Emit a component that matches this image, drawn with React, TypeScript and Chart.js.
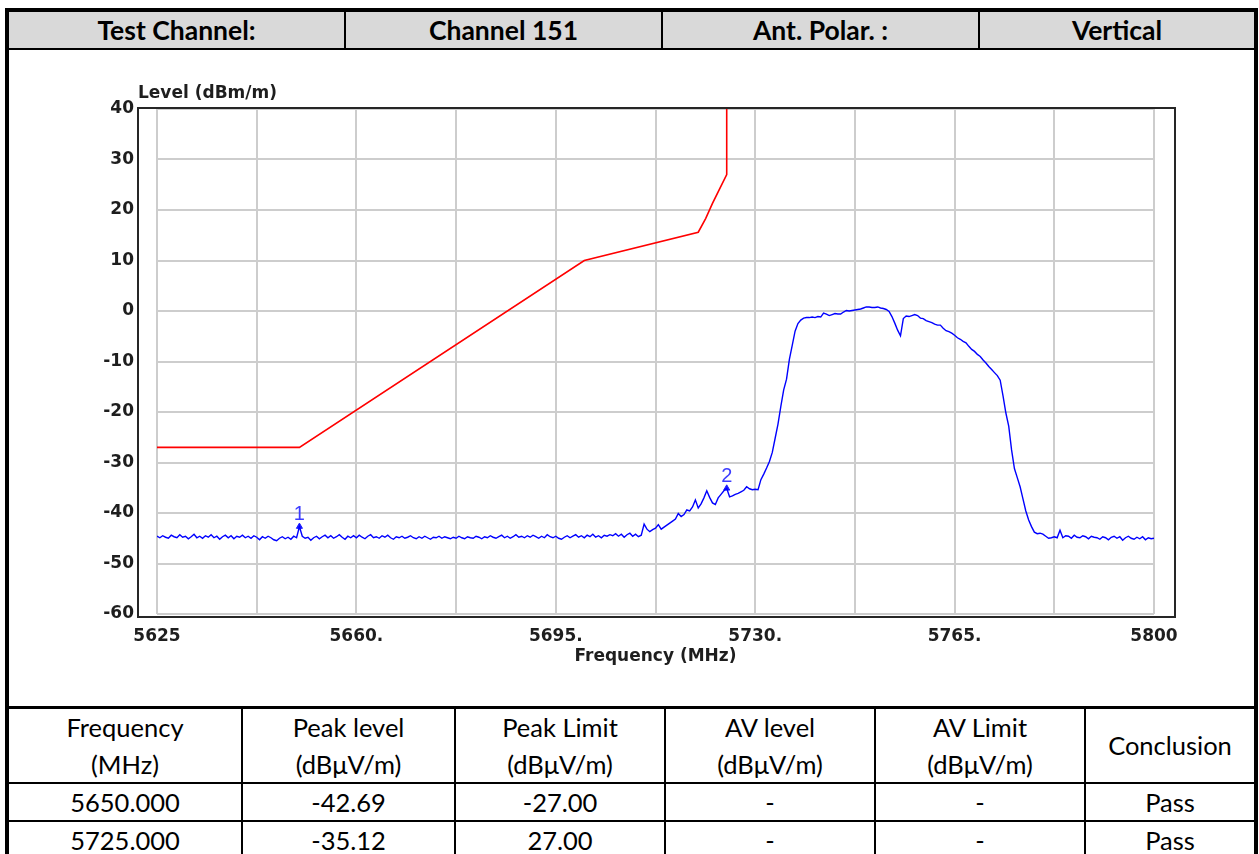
import React, { useEffect, useRef } from "react";
import { Chart, registerables } from "chart.js";

Chart.register(...registerables);

// ---------- data ----------
const headerCells = ["Test Channel:", "Channel 151", "Ant. Polar. :", "Vertical"];

const xTickValues = [5625, 5642.5, 5660, 5677.5, 5695, 5712.5, 5730, 5747.5, 5765, 5782.5, 5800];
const xTickLabels = ["5625", "", "5660.", "", "5695.", "", "5730.", "", "5765.", "", "5800"];
const yTickValues = [40, 30, 20, 10, 0, -10, -20, -30, -40, -50, -60];
const yTickLabels = ["40", "30", "20", "10", "0", "-10", "-20", "-30", "-40", "-50", "-60"];

const yAxisTitle = "Level (dBm/m)";
const xAxisTitle = "Frequency (MHz)";

const limitFreq = [5625, 5650, 5700, 5720, 5721.3, 5722.5, 5723.8, 5725, 5725];
const limitLevel = [-27, -27, 10, 15.6, 18.3, 21.3, 24.3, 27, 40];

const sweepStart = 5625;
const sweepStep = 0.5;
const measuredLevel = [
  -44.6, -44.9, -44.5, -44.8, -45.0, -44.4, -44.7, -44.9, -44.3, -44.8,
  -44.6, -45.1, -44.7, -44.2, -44.9, -44.6, -45.0, -44.5, -44.8, -44.3,
  -44.9, -44.6, -45.2, -44.7, -44.4, -44.9, -44.5, -45.1, -44.6, -44.8,
  -44.4, -44.9, -44.6, -45.0, -44.5, -44.8, -45.3, -44.7, -45.0, -44.6,
  -44.9, -45.3, -45.5, -45.0, -44.7, -45.1, -44.8, -45.2, -44.6, -44.9,
  -42.69, -44.6, -45.0, -44.8, -45.4, -44.9, -44.6, -45.1, -44.7, -44.4,
  -44.9, -44.5, -45.0, -44.7, -44.3, -44.8, -45.2, -44.6, -44.9, -44.5,
  -44.9, -44.4, -44.8, -45.1, -44.6, -44.3, -44.9, -44.7, -45.0, -44.5,
  -44.8, -44.4, -44.9, -45.2, -44.7, -44.9, -44.6, -45.0, -44.8, -44.5,
  -44.9, -45.1, -44.7, -45.0, -44.6, -44.9, -45.2, -44.8, -44.9, -44.6,
  -45.0, -44.7, -44.9, -45.1, -44.8, -45.0, -44.6, -44.9, -45.1, -44.7,
  -44.9, -45.0, -44.6, -44.8, -45.1, -44.7, -44.9, -44.5, -44.8, -45.0,
  -44.7, -44.4, -44.9, -44.6, -45.0, -44.7, -44.3, -44.8, -44.6, -44.9,
  -44.5, -44.8, -44.4, -44.7, -45.0, -44.6, -44.9, -44.3, -44.7, -44.9,
  -44.6, -45.0, -45.2, -44.8, -44.5, -44.9, -44.6, -44.3, -44.8, -44.5,
  -44.9, -44.4, -44.7, -44.2, -44.8, -44.5, -44.9, -44.4, -44.6, -44.3,
  -44.5, -44.1, -44.6, -44.2, -44.8, -44.3, -44.0, -44.6, -44.2, -44.7,
  -44.4, -42.2, -43.2, -43.7, -43.3, -43.0, -42.3, -43.2, -42.8, -42.4,
  -42.0, -41.6, -41.2, -40.1, -40.7, -40.3, -39.4, -39.6, -38.8, -37.4,
  -39.0, -38.2, -37.0, -35.6, -36.9, -38.0, -38.3, -37.0, -36.3, -35.6,
  -35.12, -36.8, -36.6, -36.3, -36.1, -35.8, -35.5, -34.8, -35.2, -35.4,
  -35.3, -35.4, -33.4, -32.3, -31.1, -29.8, -28.0, -25.2, -22.4, -18.9,
  -15.6, -13.5, -9.6, -6.8, -4.0, -2.5, -1.8, -1.4, -1.3, -1.3,
  -1.2, -1.3, -1.1, -1.2, -0.4, -0.6, -0.9, -0.7, -0.5, -0.6,
  -0.6, -0.2, 0.1, 0.0, 0.1, 0.2, 0.3, 0.4, 0.6, 0.8,
  0.8, 0.7, 0.7, 0.8, 0.6, 0.5, 0.3, -0.1, -1.1, -2.4,
  -3.8, -4.9, -1.5, -1.0, -1.1, -0.9, -0.7, -0.9, -1.4, -1.5,
  -1.9, -2.1, -2.3, -2.6, -2.8, -2.8, -3.4, -3.9, -4.1, -4.4,
  -4.8, -5.3, -5.6, -6.0, -6.3, -7.0, -7.6, -8.0, -8.6, -9.0,
  -9.7, -10.3, -11.0, -11.6, -12.2, -12.8, -13.7, -16.8, -20.2, -22.8,
  -27.5, -31.2, -33.0, -34.8, -37.2, -39.6, -41.4, -42.7, -43.8, -44.1,
  -44.0, -44.2, -44.6, -45.0, -44.9, -44.7, -44.9, -43.4, -44.9, -44.5,
  -44.6, -45.0, -44.4, -44.8, -44.9, -44.5, -44.7, -45.1, -44.6, -44.8,
  -44.9, -45.2, -44.7, -44.9, -45.3, -44.8, -44.6, -45.0, -44.7, -45.4,
  -44.9, -44.6, -45.0, -45.2, -44.8, -45.1, -44.7, -45.3, -44.9, -45.1,
  -45.0,
];

const markerFreq = [5650, 5725];
const markerLevel = [-42.69, -35.12];
const markerLabels = ["1", "2"];

const tableHead = [
  ["Frequency", "(MHz)"],
  ["Peak level", "(dBμV/m)"],
  ["Peak Limit", "(dBμV/m)"],
  ["AV level", "(dBμV/m)"],
  ["AV Limit", "(dBμV/m)"],
  ["Conclusion"],
];
const tableRows = [
  ["5650.000", "-42.69", "-27.00", "-", "-", "Pass"],
  ["5725.000", "-35.12", "27.00", "-", "-", "Pass"],
];

// ---------- layout helpers ----------
const headerCols = [
  [9, 344],
  [346, 661],
  [663, 978],
  [980, 1254],
];
const headerDividers = [344, 661, 978];
const tableCols = [
  [9, 241],
  [243, 454],
  [456, 664],
  [666, 874],
  [876, 1084],
  [1086, 1254],
];
const tableDividers = [241, 454, 664, 874, 1084];
const tableRowBands = [
  [784, 820],
  [822, 858],
];

const TICK_FONT = "'DejaVu Sans', sans-serif";
const TEXT_COLOR = "#1e1e1e";

const framePlugin = {
  id: "emcFrame",
  afterDraw(chart: any) {
    const { ctx, chartArea: a } = chart;
    ctx.save();
    ctx.strokeStyle = "#262626";
    ctx.lineWidth = 2;
    ctx.strokeRect(a.left - 19, a.top - 1, a.right - a.left + 40, a.bottom - a.top + 4);

    // axis caption above the plot, left-aligned with the frame
    ctx.fillStyle = TEXT_COLOR;
    ctx.font = "bold 17px " + TICK_FONT;
    ctx.textAlign = "left";
    ctx.textBaseline = "middle";
    ctx.fillText(yAxisTitle, a.left - 19, a.top - 15);

    const xs = chart.scales.x;
    const ys = chart.scales.y;
    ctx.fillStyle = "#3c3cff";
    ctx.font = "20px 'Liberation Sans', sans-serif";
    ctx.textAlign = "center";
    markerFreq.forEach((f, i) => {
      ctx.fillText(markerLabels[i], xs.getPixelForValue(f), ys.getPixelForValue(markerLevel[i]) - 12);
    });
    ctx.restore();
  },
};

function Box(props: { l: number; t: number; w: number; h: number; bg: string }) {
  return (
    <div
      style={{
        position: "absolute",
        left: props.l,
        top: props.t,
        width: props.w,
        height: props.h,
        background: props.bg,
      }}
    />
  );
}

function Cell(props: { l: number; r: number; t: number; b: number; bold?: boolean; lines: string[] }) {
  return (
    <div
      style={{
        position: "absolute",
        left: props.l,
        top: props.t,
        width: props.r - props.l,
        height: props.b - props.t,
        display: "flex",
        flexDirection: "column",
        alignItems: "center",
        justifyContent: "center",
        fontFamily: "Lato, 'Open Sans', sans-serif",
        fontWeight: props.bold ? 700 : 400,
        fontSize: props.bold ? 26.5 : 25.5,
        lineHeight: props.bold ? "32px" : "37px",
        color: "#000",
        whiteSpace: "nowrap",
      }}
    >
      {props.lines.map((s, i) => (
        <div key={i}>{s}</div>
      ))}
    </div>
  );
}

export default function App() {
  const canvasRef = useRef<HTMLCanvasElement | null>(null);

  useEffect(() => {
    if (!canvasRef.current) return;
    const measured = measuredLevel.map((v, i) => ({ x: sweepStart + i * sweepStep, y: v }));
    const limit = limitFreq.map((f, i) => ({ x: f, y: limitLevel[i] }));
    const markers = markerFreq.map((f, i) => ({ x: f, y: markerLevel[i] }));

    const chart = new Chart(canvasRef.current, {
      type: "line",
      data: {
        datasets: [
          {
            label: "Level",
            data: measured,
            borderColor: "#0000ff",
            borderWidth: 1.4,
            pointRadius: 0,
            tension: 0,
            fill: false,
          },
          {
            label: "Limit",
            data: limit,
            borderColor: "#ff0000",
            borderWidth: 1.6,
            pointRadius: 0,
            tension: 0,
            fill: false,
          },
          {
            label: "Markers",
            data: markers,
            showLine: false,
            pointStyle: "triangle",
            pointRadius: 3.5,
            backgroundColor: "#1a1aff",
            borderColor: "#1a1aff",
            borderWidth: 1,
          },
        ],
      },
      options: {
        animation: false,
        responsive: false,
        maintainAspectRatio: false,
        events: [],
        layout: { padding: { left: 0, right: 100, top: 59, bottom: 38.8 } },
        plugins: {
          legend: { display: false },
          tooltip: { enabled: false },
          title: { display: false },
        },
        scales: {
          x: {
            type: "linear",
            min: 5625,
            max: 5800,
            afterFit: (s: any) => {
              s.height = 53.2;
            },
            afterBuildTicks: (s: any) => {
              s.ticks = xTickValues.map((v) => ({ value: v }));
            },
            ticks: {
              autoSkip: false,
              maxRotation: 0,
              minRotation: 0,
              padding: 12.8,
              color: TEXT_COLOR,
              font: { family: TICK_FONT, size: 17, weight: "bold", lineHeight: 1.2 },
              callback: (_v: any, i: number) => xTickLabels[i],
            },
            grid: { color: "#cdcdcd", lineWidth: 2, drawTicks: false },
            border: { display: false },
            title: {
              display: true,
              text: xAxisTitle,
              color: TEXT_COLOR,
              font: { family: TICK_FONT, size: 17, weight: "bold", lineHeight: 1.2 },
              padding: 0,
            },
          },
          y: {
            type: "linear",
            min: -60,
            max: 40,
            afterFit: (s: any) => {
              s.width = 148;
            },
            afterBuildTicks: (s: any) => {
              s.ticks = yTickValues.map((v) => ({ value: v }));
            },
            ticks: {
              padding: 23,
              color: TEXT_COLOR,
              font: { family: TICK_FONT, size: 17, weight: "bold", lineHeight: 1.2 },
              callback: (_v: any, i: number) => yTickLabels[i],
            },
            grid: { color: "#cdcdcd", lineWidth: 2, drawTicks: false },
            border: { display: false },
          },
        },
      },
      plugins: [framePlugin],
    } as any);

    return () => {
      chart.destroy();
    };
  }, []);

  return (
    <div
      style={{
        position: "absolute",
        left: 0,
        top: 0,
        width: 1259,
        height: 854,
        background: "#fff",
        overflow: "hidden",
      }}
    >
      {/* header row */}
      <Box l={9} t={12} w={1245} h={36} bg="#d9d9d9" />
      {headerCols.map(([l, r], i) => (
        <Cell key={"h" + i} l={l} r={r} t={12} b={48} bold lines={[headerCells[i]]} />
      ))}
      {headerDividers.map((x, i) => (
        <Box key={"hd" + i} l={x} t={12} w={2} h={36} bg="#000" />
      ))}
      <Box l={9} t={48} w={1245} h={2} bg="#000" />

      {/* chart */}
      <canvas
        ref={canvasRef}
        width={1245}
        height={656}
        style={{ position: "absolute", left: 9, top: 50, width: 1245, height: 656 }}
      />

      {/* bottom table */}
      <Box l={9} t={706} w={1245} h={3} bg="#000" />
      {tableCols.map(([l, r], i) => (
        <Cell key={"th" + i} l={l} r={r} t={709} b={782} lines={tableHead[i]} />
      ))}
      <Box l={9} t={782} w={1245} h={2} bg="#000" />
      <Box l={9} t={820} w={1245} h={2} bg="#000" />
      {tableRows.map((row, ri) =>
        row.map((txt, ci) => (
          <Cell
            key={"r" + ri + "c" + ci}
            l={tableCols[ci][0]}
            r={tableCols[ci][1]}
            t={tableRowBands[ri][0]}
            b={tableRowBands[ri][1]}
            lines={[txt]}
          />
        ))
      )}
      {tableDividers.map((x, i) => (
        <Box key={"td" + i} l={x} t={709} w={2} h={150} bg="#000" />
      ))}

      {/* outer border */}
      <Box l={5} t={8} w={1253} h={4} bg="#000" />
      <Box l={5} t={8} w={4} h={846} bg="#000" />
      <Box l={1254} t={8} w={4} h={846} bg="#000" />
    </div>
  );
}
